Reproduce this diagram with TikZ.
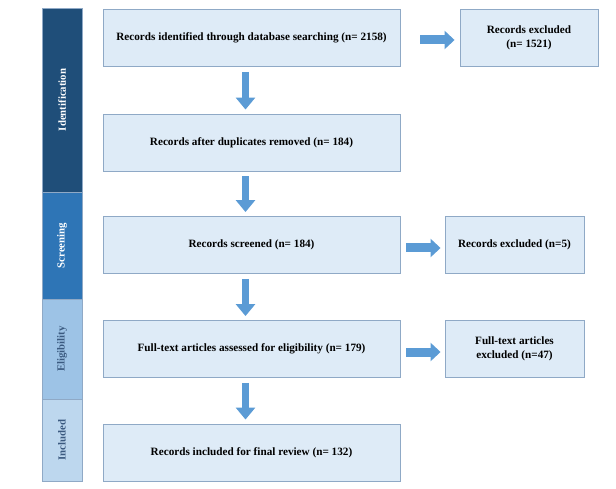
\documentclass[tikz,border=0pt]{standalone}
\usepackage{fontspec}
\setmainfont{Liberation Serif}
\usetikzlibrary{arrows.meta,calc}
\definecolor{navy}{HTML}{1F4E79}
\definecolor{scr}{HTML}{2E75B6}
\definecolor{elig}{HTML}{9DC3E6}
\definecolor{incl}{HTML}{BDD7EE}
\definecolor{boxfill}{HTML}{DEEBF7}
\definecolor{boxline}{HTML}{8FA9C6}
\definecolor{arrowblue}{HTML}{5B9BD5}
\definecolor{labdark}{HTML}{3B5A80}
\tikzset{
  flowbox/.style={draw=boxline, line width=0.9pt, fill=boxfill, align=center,
    font=\fontsize{11.2}{14}\selectfont\bfseries, inner sep=2pt},
  mainbox/.style={flowbox, minimum width=297pt, minimum height=57pt},
  sidebox/.style={flowbox, minimum width=139pt, minimum height=57pt},
  barbox/.style={draw=boxline, line width=0.8pt, minimum width=40pt, inner sep=0pt},
  barlabel/.style={rotate=90, font=\fontsize{10.8}{13}\selectfont\bfseries},
  downarrow/.style={draw=arrowblue, line width=7.5pt,
    -{Triangle[width=19pt,length=12pt]}},
  rightarrow/.style={draw=arrowblue, line width=9pt,
    -{Triangle[width=18pt,length=10pt]}}
}
\begin{document}
\begin{tikzpicture}[x=1pt,y=-1pt]
\useasboundingbox (0,0) rectangle (616,489);
% side bar
\node[barbox, fill=navy, minimum height=184pt] (bid) at (62,100) {};
\node[barbox, fill=scr, minimum height=107pt] (bsc) at (62,245.5) {};
\node[barbox, fill=elig, minimum height=100pt] (bel) at (62,349) {};
\node[barbox, fill=incl, minimum height=82pt] (bin) at (62,440) {};
\node[barlabel, text=white] (lid) at (bid.center) {Identification};
\node[barlabel, text=white] (lsc) at (bsc.center) {Screening};
\node[barlabel, text=labdark] (lel) at (bel.center) {Eligibility};
\node[barlabel, text=labdark] (lin) at (bin.center) {Included};
% main boxes
\node[mainbox] (b1) at (251.5,38) {Records identified through database searching (n= 2158)};
\node[mainbox] (b2) at (251.5,142.5) {Records after duplicates removed (n= 184)};
\node[mainbox] (b3) at (251.5,245) {Records screened (n= 184)};
\node[mainbox] (b4) at (251.5,349) {Full-text articles assessed for eligibility (n= 179)};
\node[mainbox] (b5) at (251.5,452.5) {Records included for final review (n= 132)};
% side boxes
\node[sidebox, minimum width=138pt] (r1) at (529,38) {Records excluded\\(n= 1521)};
\node[sidebox] (r3) at (514.5,245) {Records excluded (n=5)};
\node[sidebox] (r4) at (514.5,349) {Full-text articles\\excluded (n=47)};
% down arrows
\foreach \a/\b in {b1/b2,b2/b3,b3/b4,b4/b5}{
  \draw[downarrow, shorten <=5pt, shorten >=4pt] ([xshift=-6pt]\a.south) -- ([xshift=-6pt]\b.north);
}
% right arrows
\draw[rightarrow, shorten <=20pt, shorten >=5pt] ([yshift=-2pt]b1.east) -- ([yshift=-2pt]r1.west);
\draw[rightarrow, shorten <=6pt, shorten >=4pt] ([yshift=-3pt]b3.east) -- ([yshift=-3pt]r3.west);
\draw[rightarrow, shorten <=6pt, shorten >=4pt] ([yshift=-3pt]b4.east) -- ([yshift=-3pt]r4.west);
\end{tikzpicture}
\end{document}
